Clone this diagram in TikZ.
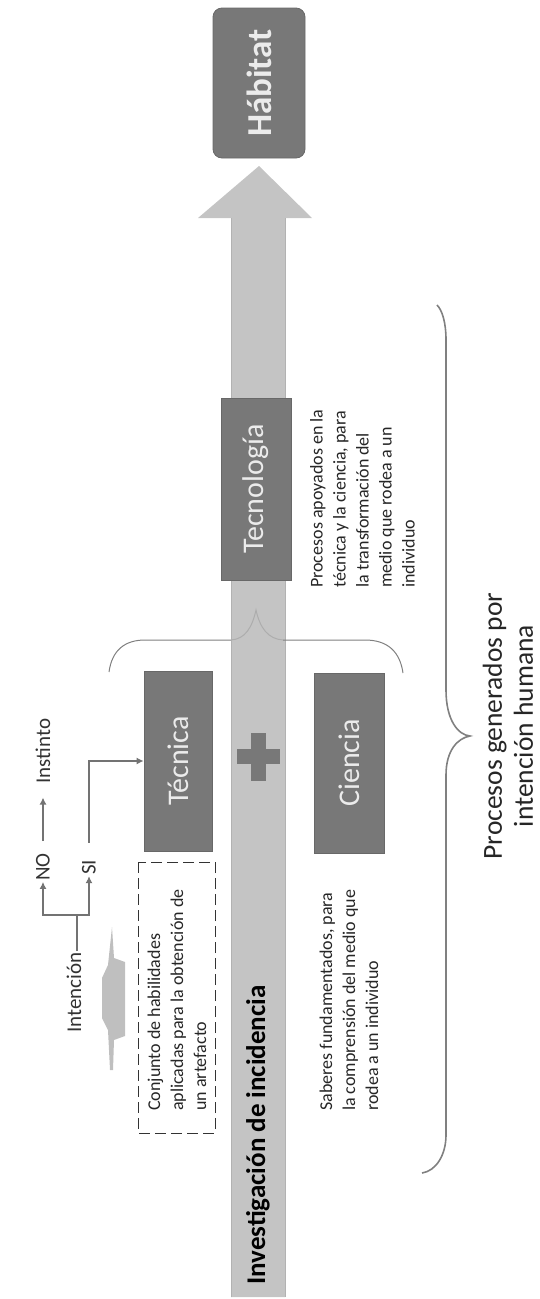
\documentclass[tikz,border=0pt]{standalone}
\usepackage{fontspec}
\setmainfont{Carlito}
\usetikzlibrary{arrows.meta}
\begin{document}
\begin{tikzpicture}[x=1pt, y=-1pt,
    caja/.style={fill=gris, draw=grisborde, line width=0.8pt, text=white!92!black, rotate=90, font=\fontsize{30}{32}\selectfont},
    nota/.style={rotate=90, anchor=west, align=left, text=black!85, font=\fontsize{18}{23}\selectfont, inner sep=0pt},
    etiqueta/.style={rotate=90, text=black!80, font=\fontsize{21}{24}\selectfont, inner sep=1pt},
    linea/.style={draw=black!55, line width=1.2pt},
    flecha/.style={linea, -{Latex[length=7pt,width=7pt]}},
    llave/.style={draw=black!50, line width=1pt}]
  \definecolor{gris}{HTML}{787878}
  \definecolor{grisborde}{HTML}{686868}
  \definecolor{barra}{HTML}{C4C4C4}
  \useasboundingbox (0,0) rectangle (540,1299);

  % ---- barra vertical con punta ----
  \fill[barra] (231,1297) -- (231,218) -- (198,218) -- (259,166) -- (312,218) -- (285,218) -- (285,1297) -- cycle;
  \draw[black!30, line width=0.8pt] (231,1297) -- (231,218) (285,1297) -- (285,218);
  \node[rotate=90, anchor=west, font=\fontsize{27}{29}\selectfont\bfseries, inner sep=0pt] (investigacion) at (258,1285) {Investigación de incidencia};

  % ---- cajas ----
  \node[caja, rounded corners=9pt, minimum width=150pt, minimum height=92pt, font=\fontsize{35}{37}\selectfont\bfseries] (habitat) at (259,83) {Hábitat};
  \node[caja, minimum width=182pt, minimum height=70pt] (tecnologia) at (256,489) {Tecnología};
  \node[caja, minimum width=180pt, minimum height=68pt] (tecnica) at (178,761) {Técnica};
  \node[caja, minimum width=180pt, minimum height=70pt] (ciencia) at (349,763) {Ciencia};

  % ---- signo mas ----
  \fill[gris] (251,733) rectangle (266,781);
  \fill[gris] (237,749) rectangle (280,764);

  % ---- intencion / instinto ----
  \node[etiqueta] (instinto) at (43,751) {Instinto};
  \node[etiqueta] (no) at (43,867) {NO};
  \node[etiqueta] (si) at (89,867.5) {SI};
  \node[etiqueta] (intencion) at (74,992.5) {Intención};
  \coordinate (cruce) at (77,915);
  \draw[linea] (intencion.east -| cruce) -- (cruce);
  \draw[flecha] (cruce) -| (no.west);
  \draw[flecha] (cruce) -| (si.west);
  \draw[flecha, shorten <=11pt, shorten >=13pt] (no.east) -- (instinto.west);
  \draw[flecha, shorten <=16pt] (si.east) |- (tecnica.north);

  % ---- mancha gris ----
  \fill[black!25] (112,927) -- (114,958) -- (125,962) -- (125,1036) -- (114,1040) -- (113,1070) -- (110,1070) -- (108,1030) -- (102,1018) -- (102,978) -- (108,965) -- cycle;

  % ---- textos ----
  \node[draw=black!80, dash pattern=on 11pt off 5pt, line width=1pt, rotate=90, minimum width=271pt, minimum height=77pt] (cuadro) at (176.5,997.5) {};
  \node[nota] (conjunto) at (177,1111) {Conjunto de habilidades\\aplicadas para la obtención de\\un artefacto};
  \node[nota] (saberes) at (349,1111) {Saberes fundamentados, para\\la comprensión del medio que\\rodea a un individuo};
  \node[nota] (procesos) at (362.5,588) {Procesos apoyados en la\\técnica y la ciencia, para\\la transformación del\\medio que rodea a un\\individuo};

  % ---- llaves ----
  \draw[llave] (109,672) .. controls (112,650) and (125,640) .. (145,640) -- (231,640);
  \draw[llave, black!32] (231,640) .. controls (245,639) and (252,628) .. (256,610) .. controls (260,628) and (268,639) .. (283,640);
  \draw[llave] (283,640) -- (365,640) .. controls (388,640) and (400,652) .. (403,673);
  \draw[llave, line width=1.6pt] (437,305) .. controls (442,310) and (446,322) .. (446,340) -- (446,690) .. controls (446,720) and (458,735) .. (470,736)
    .. controls (458,738) and (446,750) .. (446,775) -- (446,1135) .. controls (446,1155) and (436,1171) .. (422,1173);
  \node[etiqueta, align=center, font=\fontsize{27.5}{31}\selectfont, text=black!85] (generados) at (508,726) {Procesos generados por\\intención humana};
\end{tikzpicture}
\end{document}
